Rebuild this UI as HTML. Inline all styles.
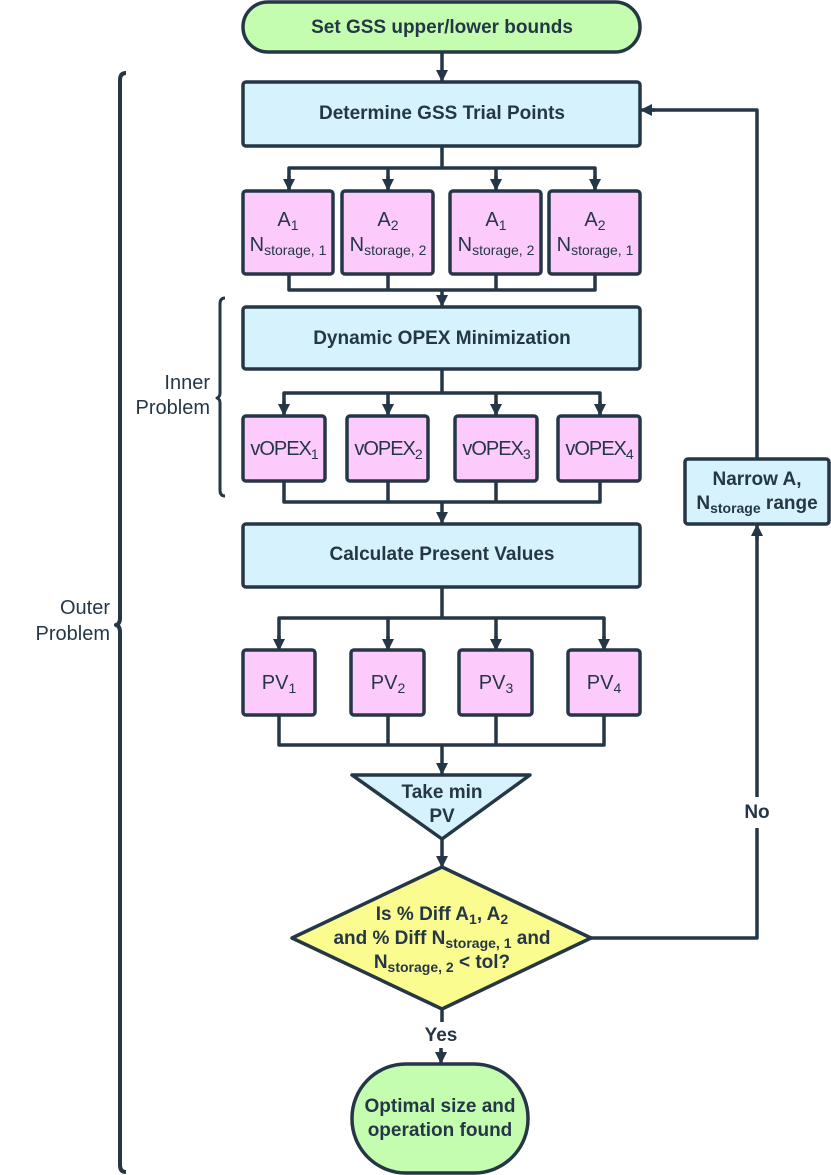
<!DOCTYPE html>
<html><head><meta charset="utf-8"><style>
html,body{margin:0;padding:0;background:#fff;}
svg{display:block;font-family:"Liberation Sans",Arial,sans-serif;}
.b{font-weight:bold;font-size:19px;fill:#253746;}
.r{font-size:20px;fill:#253746;}
.s{font-size:14px;}
</style></head><body>
<svg width="831" height="1175" viewBox="0 0 831 1175" xmlns="http://www.w3.org/2000/svg">
<defs><marker id="a" markerWidth="12" markerHeight="12" refX="11" refY="6" orient="auto" markerUnits="userSpaceOnUse"><path d="M0,0 L12,6 L0,12 z" fill="#253746"/></marker></defs>
<g stroke="#253746" stroke-width="3.5" fill="none" stroke-linejoin="round">
<rect x="243" y="2" width="397" height="50" rx="25" fill="#c5fdb0"/>
<line x1="442" y1="52" x2="442" y2="81" marker-end="url(#a)"/>
<rect x="243" y="82" width="397" height="64" rx="3" fill="#d6f2fd"/>
<path d="M442 146 V168 M289 189 V168 H595 V189 M388 168 V189 M496 168 V189"/>
<line x1="289" y1="176" x2="289" y2="190" marker-end="url(#a)"/>
<line x1="388" y1="176" x2="388" y2="190" marker-end="url(#a)"/>
<line x1="496" y1="176" x2="496" y2="190" marker-end="url(#a)"/>
<line x1="595" y1="176" x2="595" y2="190" marker-end="url(#a)"/>
<rect x="243" y="191" width="90" height="83" rx="3" fill="#fccbfc"/>
<rect x="342" y="191" width="91" height="83" rx="3" fill="#fccbfc"/>
<rect x="450" y="191" width="91" height="83" rx="3" fill="#fccbfc"/>
<rect x="549" y="191" width="91" height="83" rx="3" fill="#fccbfc"/>
<path d="M289 274 V290 H595 V274 M388 274 V290 M496 274 V290"/>
<line x1="442" y1="290" x2="442" y2="306" marker-end="url(#a)"/>
<rect x="243" y="307" width="397" height="62" rx="3" fill="#d6f2fd"/>
<path d="M442 369 V393 H600 V414 M284 414 V393 H442 M388 393 V414 M496 393 V414"/>
<line x1="284" y1="401" x2="284" y2="415" marker-end="url(#a)"/>
<line x1="388" y1="401" x2="388" y2="415" marker-end="url(#a)"/>
<line x1="496" y1="401" x2="496" y2="415" marker-end="url(#a)"/>
<line x1="600" y1="401" x2="600" y2="415" marker-end="url(#a)"/>
<rect x="243" y="416" width="82" height="65" rx="3" fill="#fccbfc"/>
<rect x="347" y="416" width="81" height="65" rx="3" fill="#fccbfc"/>
<rect x="455" y="416" width="82" height="65" rx="3" fill="#fccbfc"/>
<rect x="558" y="416" width="82" height="65" rx="3" fill="#fccbfc"/>
<path d="M284 481 V502 H600 V481 M388 481 V502 M496 481 V502"/>
<line x1="442" y1="502" x2="442" y2="523" marker-end="url(#a)"/>
<rect x="243" y="524" width="397" height="63" rx="3" fill="#d6f2fd"/>
<path d="M442 587 V618 M279 648 V618 H604 V648 M388 618 V648 M496 618 V648"/>
<line x1="279" y1="636" x2="279" y2="650" marker-end="url(#a)"/>
<line x1="388" y1="636" x2="388" y2="650" marker-end="url(#a)"/>
<line x1="496" y1="636" x2="496" y2="650" marker-end="url(#a)"/>
<line x1="604" y1="636" x2="604" y2="650" marker-end="url(#a)"/>
<rect x="243" y="650" width="72" height="65" rx="3" fill="#fccbfc"/>
<rect x="351" y="650" width="73" height="65" rx="3" fill="#fccbfc"/>
<rect x="459" y="650" width="73" height="65" rx="3" fill="#fccbfc"/>
<rect x="568" y="650" width="72" height="65" rx="3" fill="#fccbfc"/>
<path d="M279 715 V745 H604 V715 M388 715 V745 M496 715 V745"/>
<line x1="442" y1="745" x2="442" y2="774" marker-end="url(#a)"/>
<path d="M352 775 H530 L442 839 Z" fill="#d6f2fd"/>
<line x1="442" y1="839" x2="442" y2="867" marker-end="url(#a)"/>
<path d="M442 867 L591 938 L442 1009 L292 938 Z" fill="#fbfc8f"/>
<path d="M591 938 H757 V828 M757 797 V535" />
<line x1="757" y1="540" x2="757" y2="525" marker-end="url(#a)"/>
<rect x="685" y="459" width="144" height="65" rx="3" fill="#d6f2fd"/>
<path d="M757 459 V110 H650"/>
<line x1="655" y1="110" x2="641" y2="110" marker-end="url(#a)"/>
<path d="M442 1009 V1022 M441 1048 V1055"/>
<line x1="441" y1="1050" x2="441" y2="1063" marker-end="url(#a)"/>
<rect x="352" y="1064" width="176" height="109" rx="54" fill="#c5fdb0"/>
<path d="M126 73 Q120 73 120 80 V618 Q120 624 116 625 Q120 626 120 632 V1165 Q120 1172 126 1172" stroke-width="4"/>
<path d="M225 298 Q220 298 220 304 V393 Q220 397 217 398 Q220 399 220 403 V490 Q220 496 225 496" stroke-width="3"/>
</g>
<g text-anchor="middle">
<text class="b" x="442" y="33">Set GSS upper/lower bounds</text>
<text class="b" x="442" y="119">Determine GSS Trial Points</text>
<text class="r" x="288" y="226">A<tspan class="s" dy="4">1</tspan></text>
<text class="r" x="288" y="251">N<tspan class="s" dy="4">storage, 1</tspan></text>
<text class="r" x="388" y="226">A<tspan class="s" dy="4">2</tspan></text>
<text class="r" x="388" y="251">N<tspan class="s" dy="4">storage, 2</tspan></text>
<text class="r" x="496" y="226">A<tspan class="s" dy="4">1</tspan></text>
<text class="r" x="496" y="251">N<tspan class="s" dy="4">storage, 2</tspan></text>
<text class="r" x="595" y="226">A<tspan class="s" dy="4">2</tspan></text>
<text class="r" x="595" y="251">N<tspan class="s" dy="4">storage, 1</tspan></text>
<text class="b" x="442" y="344">Dynamic OPEX Minimization</text>
<text class="r" x="284" y="455" letter-spacing="-1">vOPEX<tspan class="s" dy="4">1</tspan></text>
<text class="r" x="388" y="455" letter-spacing="-1">vOPEX<tspan class="s" dy="4">2</tspan></text>
<text class="r" x="496" y="455" letter-spacing="-1">vOPEX<tspan class="s" dy="4">3</tspan></text>
<text class="r" x="599" y="455" letter-spacing="-1">vOPEX<tspan class="s" dy="4">4</tspan></text>
<text class="b" x="442" y="560">Calculate Present Values</text>
<text class="r" x="279" y="689">PV<tspan class="s" dy="4">1</tspan></text>
<text class="r" x="388" y="689">PV<tspan class="s" dy="4">2</tspan></text>
<text class="r" x="496" y="689">PV<tspan class="s" dy="4">3</tspan></text>
<text class="r" x="604" y="689">PV<tspan class="s" dy="4">4</tspan></text>
<text class="b" x="442" y="798">Take min</text>
<text class="b" x="442" y="822">PV</text>
<text class="b" x="442" y="920" font-size="18">Is % Diff A<tspan class="s" dy="4">1</tspan><tspan dy="-4">, A</tspan><tspan class="s" dy="4">2</tspan></text>
<text class="b" x="442" y="944" font-size="18">and % Diff N<tspan class="s" dy="4">storage, 1</tspan><tspan dy="-4"> and</tspan></text>
<text class="b" x="442" y="968" font-size="18">N<tspan class="s" dy="4">storage, 2</tspan><tspan dy="-4"> &lt; tol?</tspan></text>
<text class="b" x="757" y="818">No</text>
<text class="b" x="441" y="1041">Yes</text>
<text class="b" x="440" y="1112">Optimal size and</text>
<text class="b" x="440" y="1136">operation found</text>
<text class="b" x="757" y="485">Narrow A,</text>
<text class="b" x="757" y="509">N<tspan class="s" dy="4">storage</tspan><tspan dy="-4"> range</tspan></text>
</g>
<g text-anchor="end">
<text class="r" x="210" y="389" font-size="19">Inner</text>
<text class="r" x="210" y="414" font-size="19">Problem</text>
<text class="r" x="110" y="614" font-size="19">Outer</text>
<text class="r" x="110" y="640" font-size="19">Problem</text>
</g>
</svg>
</body></html>
